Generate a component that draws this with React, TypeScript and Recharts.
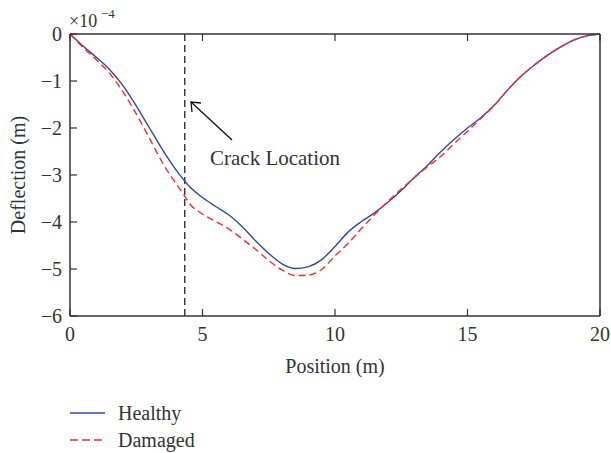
import { Line, LineChart, ReferenceLine, XAxis, YAxis } from 'recharts';

// position along the beam (m)
const positions = [
    0, 0.5, 1, 1.5, 2, 2.5, 3, 3.5, 4, 4.33, 4.5, 5, 5.5, 6, 6.5, 7, 7.5, 8,
    8.5, 9, 9.5, 10, 10.5, 11, 11.5, 12, 12.5, 13, 13.5, 14, 14.5, 15, 15.5,
    16, 16.5, 17, 17.5, 18, 18.5, 19, 19.5, 20,
];

// deflection in units of 1e-4 m
const healthy = [
    0, -0.26, -0.5, -0.76, -1.1, -1.53, -2.0, -2.47, -2.89, -3.13, -3.24,
    -3.48, -3.67, -3.85, -4.1, -4.4, -4.67, -4.89, -4.99, -4.95, -4.8, -4.52,
    -4.21, -3.99, -3.8, -3.58, -3.33, -3.05, -2.79, -2.5, -2.24, -2.0, -1.78,
    -1.52, -1.2, -0.91, -0.67, -0.46, -0.28, -0.13, -0.04, 0,
];

const damaged = [
    0, -0.29, -0.55, -0.84, -1.23, -1.7, -2.22, -2.75, -3.18, -3.45, -3.6,
    -3.83, -3.99, -4.15, -4.36, -4.58, -4.82, -5.02, -5.14, -5.13, -5.01,
    -4.72, -4.45, -4.14, -3.84, -3.56, -3.3, -3.05, -2.82, -2.6, -2.33, -2.07,
    -1.8, -1.53, -1.2, -0.91, -0.67, -0.46, -0.28, -0.13, -0.04, 0,
];

const xTicks = [0, 5, 10, 15, 20];
const yTicks = [-6, -5, -4, -3, -2, -1, 0];
const crackPosition = 4.33;

const data = positions.map((x, i) => ({
    x,
    healthy: healthy[i],
    damaged: damaged[i],
}));

const AXIS = '#333';
const FONT = '"Liberation Serif", "DejaVu Serif", serif';
const TICK = 7;

const fmt = (v: number) => (v < 0 ? `\u2212${Math.abs(v)}` : `${v}`);

const BottomTick = (props: any) => {
    const { x, y, payload } = props;
    return (
        <g>
            <line x1={x} y1={y} x2={x} y2={y - TICK} stroke={AXIS} strokeWidth={1.2} />
            <text x={x} y={y + 25} textAnchor="middle" fontFamily={FONT} fontSize={20} fill={AXIS}>
                {fmt(payload.value)}
            </text>
        </g>
    );
};

const TopTick = (props: any) => {
    const { x, y } = props;
    return <line x1={x} y1={y} x2={x} y2={y + TICK} stroke={AXIS} strokeWidth={1.2} />;
};

const LeftTick = (props: any) => {
    const { x, y, payload } = props;
    return (
        <g>
            <line x1={x} y1={y} x2={x + TICK} y2={y} stroke={AXIS} strokeWidth={1.2} />
            <text x={x - 8} y={y + 7} textAnchor="end" fontFamily={FONT} fontSize={20} fill={AXIS}>
                {fmt(payload.value)}
            </text>
        </g>
    );
};

const RightTick = (props: any) => {
    const { x, y } = props;
    return <line x1={x} y1={y} x2={x - TICK} y2={y} stroke={AXIS} strokeWidth={1.2} />;
};

const axisLine = { stroke: AXIS, strokeWidth: 1.5 };

export default function App() {
    return (
        <div style={{ position: 'absolute', left: 0, top: 0, width: 611, height: 453, background: '#fff' }}>
            <LineChart
                width={611}
                height={453}
                data={data}
                margin={{ top: 33, right: 10, bottom: 136, left: 0 }}
            >
                <XAxis
                    dataKey="x"
                    type="number"
                    domain={[0, 20]}
                    ticks={xTicks}
                    interval={0}
                    height={1}
                    tickSize={0}
                    tickMargin={0}
                    tickLine={false}
                    axisLine={axisLine}
                    tick={<BottomTick />}
                />
                <XAxis
                    xAxisId="top"
                    dataKey="x"
                    type="number"
                    orientation="top"
                    domain={[0, 20]}
                    ticks={xTicks}
                    interval={0}
                    height={1}
                    tickSize={0}
                    tickMargin={0}
                    tickLine={false}
                    axisLine={axisLine}
                    tick={<TopTick />}
                />
                <YAxis
                    type="number"
                    domain={[-6, 0]}
                    ticks={yTicks}
                    interval={0}
                    width={70}
                    tickSize={0}
                    tickMargin={0}
                    tickLine={false}
                    axisLine={axisLine}
                    tick={<LeftTick />}
                />
                <YAxis
                    yAxisId="right"
                    orientation="right"
                    type="number"
                    domain={[-6, 0]}
                    ticks={yTicks}
                    interval={0}
                    width={1}
                    tickSize={0}
                    tickMargin={0}
                    tickLine={false}
                    axisLine={axisLine}
                    tick={<RightTick />}
                />
                <ReferenceLine x={crackPosition} stroke={AXIS} strokeWidth={1.4} strokeDasharray="7 4" />
                <Line
                    type="monotone"
                    dataKey="healthy"
                    stroke="#2f47a8"
                    strokeWidth={1.4}
                    dot={false}
                    isAnimationActive={false}
                />
                <Line
                    type="monotone"
                    dataKey="damaged"
                    stroke="#ff2a2a"
                    strokeWidth={1.4}
                    strokeDasharray="7 4"
                    dot={false}
                    isAnimationActive={false}
                />
            </LineChart>
            <svg
                width={611}
                height={453}
                style={{ position: 'absolute', left: 0, top: 0, pointerEvents: 'none' }}
                fontFamily={FONT}
                fill={AXIS}
            >
                <text x={69} y={27} fontSize={18}>
                    ×10
                </text>
                <text x={101} y={18} fontSize={13}>
                    −4
                </text>
                <text
                    x={0}
                    y={0}
                    fontSize={20}
                    textAnchor="middle"
                    transform="translate(25,175) rotate(-90)"
                >
                    Deflection (m)
                </text>
                <text x={335} y={373} fontSize={20} textAnchor="middle">
                    Position (m)
                </text>
                <line x1={232} y1={140} x2={191} y2={102} stroke="#111" strokeWidth={1.3} />
                <polyline points="192,112 191,102 201,103" fill="none" stroke="#111" strokeWidth={1.3} />
                <text x={210} y={165} fontSize={21}>
                    Crack Location
                </text>
                <line x1={70} y1={413} x2={105} y2={413} stroke="#2f47a8" strokeWidth={1.4} />
                <text x={118} y={420} fontSize={20}>
                    Healthy
                </text>
                <line x1={70} y1={440} x2={105} y2={440} stroke="#ff2a2a" strokeWidth={1.4} strokeDasharray="8 4" />
                <text x={118} y={447} fontSize={20}>
                    Damaged
                </text>
            </svg>
        </div>
    );
}
